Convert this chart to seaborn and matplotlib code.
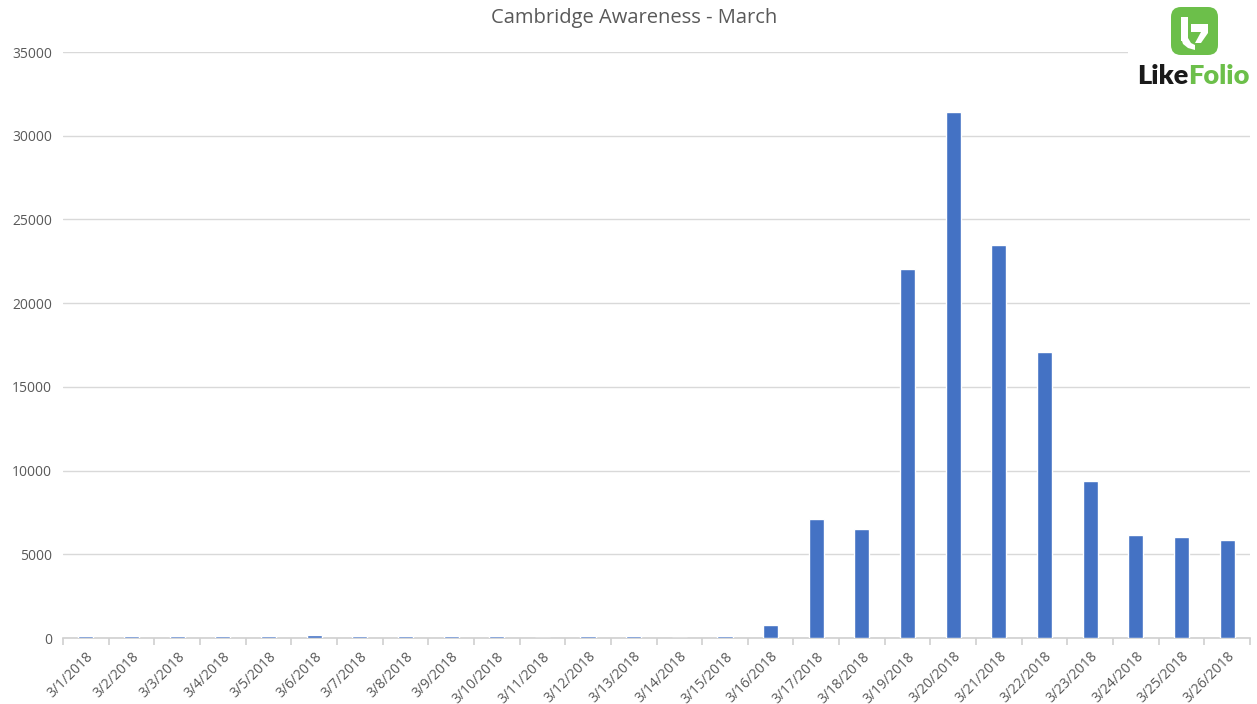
import matplotlib
matplotlib.use("Agg")
import matplotlib.pyplot as plt
from matplotlib.patches import FancyBboxPatch, Rectangle, Polygon
import seaborn as sns
import pandas as pd

dates = [f"3/{d}/2018" for d in range(1, 27)]
mentions = [100, 100, 100, 90, 100, 180, 100, 100, 100, 90, 0, 100, 100, 0, 90,
            800, 7110, 6510, 22040, 31420, 23480, 17080, 9380, 6150, 6030, 5850]
title = "Cambridge Awareness - March"
y_ticks = [0, 5000, 10000, 15000, 20000, 25000, 30000, 35000]

df = pd.DataFrame({"date": dates, "mentions": mentions})

sns.set_theme(style="white")
plt.rcParams["font.family"] = ["Open Sans", "DejaVu Sans"]

fig = plt.figure(figsize=(12.57, 7.04), dpi=100)
ax = fig.add_axes([63 / 1257, 66 / 704, (1250 - 63) / 1257, (638 - 52) / 704])

sns.barplot(data=df, x="date", y="mentions", color="#4472C4", saturation=1,
            width=0.33, ax=ax, zorder=5)

ax.set_xlim(-0.5, len(dates) - 0.5)
ax.set_ylim(0, 35000)
ax.set_yticks(y_ticks)
ax.set_yticklabels([str(v) for v in y_ticks])
ax.yaxis.grid(True, color="#D9D9D9", linewidth=1.0, zorder=0)
ax.set_xlabel("")
ax.set_ylabel("")

for s in ["top", "right", "left"]:
    ax.spines[s].set_visible(False)
ax.spines["bottom"].set_color("#D0D0D0")
ax.spines["bottom"].set_linewidth(1.2)
ax.spines["bottom"].set_zorder(2)

# ticks sit between categories; labels stay centred under each bar
ax.set_xticks(range(len(dates)))
ax.set_xticklabels(dates, rotation=45, ha="right", rotation_mode="anchor",
                   fontsize=10, color="#595959")
ax.set_xticks([i - 0.5 for i in range(len(dates) + 1)], minor=True)
ax.tick_params(axis="x", which="major", length=0, pad=8)
ax.tick_params(axis="x", which="minor", length=5, width=1.2, color="#D0D0D0",
               direction="out", bottom=True)
ax.tick_params(axis="y", length=0, labelsize=10, labelcolor="#595959", pad=8)

fig.text(634 / 1257, 1 - 18 / 704, title, ha="center", va="center",
         fontsize=14.5, color="#595959")

# LikeFolio logo: green rounded badge with a white glyph, and the wordmark
logo = fig.add_axes([1128 / 1257, 1 - 95 / 704, 129 / 1257, 95 / 704])
logo.set_xlim(0, 129)
logo.set_ylim(95, 0)
logo.axis("off")
logo.add_patch(Rectangle((0, 0), 129, 95, facecolor="white", edgecolor="none"))
green = "#6CBF4A"
logo.add_patch(FancyBboxPatch((43, 7), 47, 48, boxstyle="round,pad=0,rounding_size=10",
                              facecolor=green, edgecolor="none"))
logo.add_patch(Rectangle((53, 17), 7, 24, facecolor="white", edgecolor="none"))
logo.add_patch(Polygon([[53, 38], [60, 38], [63, 43], [67, 45], [67, 50], [60, 48], [55, 44]],
                       closed=True, facecolor="white", edgecolor="none"))
logo.add_patch(Polygon([[63, 24], [80, 24], [80, 33], [73, 43], [67, 43], [73, 32], [63, 32]],
                       closed=True, facecolor="white", edgecolor="none"))

like = logo.text(9, 76, "Like", ha="left", va="center", fontsize=19.5,
                 fontweight="heavy", color="#1A1A1A", family=["Lato", "DejaVu Sans"])
fig.canvas.draw()
bb = like.get_window_extent().transformed(logo.transData.inverted())
logo.text(bb.x1, 76, "Folio", ha="left", va="center", fontsize=19.5,
          fontweight="heavy", color=green, family=["Lato", "DejaVu Sans"])

fig.savefig("out.png", dpi=100)
